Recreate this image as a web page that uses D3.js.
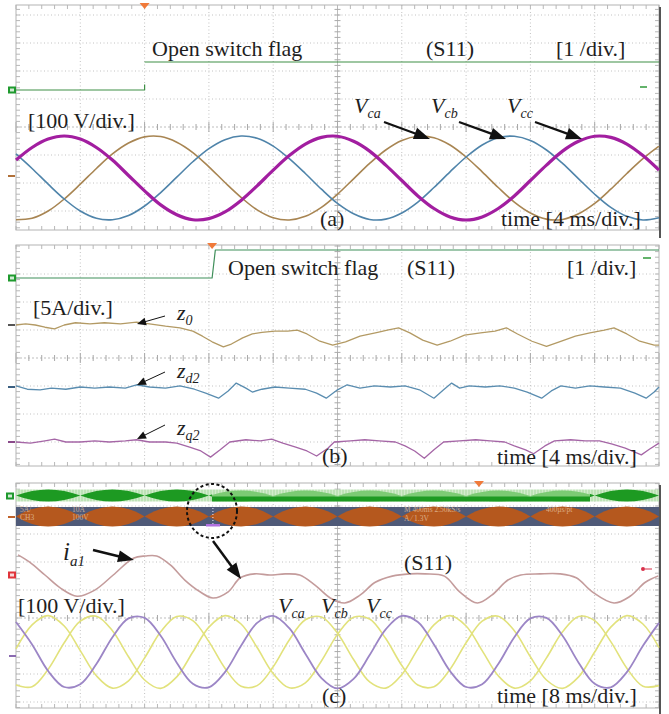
<!DOCTYPE html>
<html><head><meta charset="utf-8">
<script src="https://cdn.jsdelivr.net/npm/d3@7"></script>
<style>
body{margin:0;background:#fff}
svg{display:block}
text{font-family:"Liberation Serif","Times New Roman",serif;fill:#1e1e1e}
</style></head>
<body><svg id="c" width="669" height="714"></svg>
<script>
// ---------------- DATA ----------------
// Panel (a): 4 ms/div, 100 V/div
const tA = d3.range(0, 41);               // sample times, ms
const vcaA = [-149,-144,-118,-75,-22,34,86,125,147,148,128,91,40,-16,-69,-114,-142,-150,-137,-105,-58,-3,52,100,134,149,144,118,75,22,-34,-86,-125,-147,-148,-128,-91,-40,16,69,114];
const vcbA = [86,34,-22,-75,-118,-144,-149,-134,-100,-52,3,58,105,137,150,142,114,69,16,-40,-91,-128,-148,-147,-125,-86,-34,22,75,118,144,149,134,100,52,-3,-58,-105,-137,-150,-142];
const vccA = [64,109,139,150,139,109,64,9,-46,-96,-131,-149,-145,-121,-80,-28,28,80,121,145,149,131,96,46,-9,-64,-109,-139,-150,-139,-109,-64,-9,46,96,131,149,145,121,80,28];
const flagAT = [0, 8.0, 8.0, 8.0, 8.0, 40];
const flagA  = [0, 0, 0.2, null, 1, 1];

// Panel (b): 4 ms/div, 5 A/div
const flagBT = [0, 12.2, 12.4, 40];
const flagB  = [0, 0, 1, 1];
const z0T = [0,0.6,1.2,1.8,2.4,3.0,3.7,4.6,5.5,6.5,7.5,8.3,9.3,10.2,11.0,11.6,12.2,12.9,13.4,14.1,14.7,15.3,16.1,16.9,17.5,18.1,18.9,19.7,20.5,21.4,22.5,23.1,23.8,24.5,25.3,26.2,27.0,27.9,28.9,29.8,30.5,31.2,32.1,33.0,33.8,34.8,35.7,36.6,37.2,38.0,38.8,39.7,40.0];
const z0  = [0,0.2,0,-0.4,-0.7,0,0.4,0.2,0.4,0.2,0.5,0.2,-0.2,-0.5,-1.1,-2.0,-3.0,-3.9,-3.4,-2.3,-1.6,-1.3,-1.1,-1.1,-0.9,-1.6,-2.9,-3.6,-3.0,-2.0,-1.3,-0.9,-0.5,-1.4,-2.7,-3.6,-2.9,-1.8,-1.4,-1.1,-0.5,-1.6,-2.9,-3.8,-3.0,-2.0,-1.4,-0.9,-0.5,-1.6,-2.9,-3.6,-3.6];
const zd2T = [0,0.7,1.5,2.2,3.1,4.0,4.9,5.8,6.8,7.5,8.3,9.3,10.2,11.1,11.8,12.6,13.2,13.7,14.3,14.7,15.3,16.1,17.0,18.0,18.7,19.3,20.0,20.6,21.4,22.3,23.3,24.2,25.1,26.0,26.6,27.1,27.6,28.2,29.2,30.1,31.0,31.8,32.7,33.3,33.9,34.8,35.7,36.6,37.6,38.5,39.2,39.7,40.0];
const zd2  = [0.2,-0.4,-0.5,-0.2,-0.4,0,-0.2,0,-0.2,0.4,0,-0.2,0.2,-0.4,-1.1,-2.0,-0.7,0.7,-0.2,-0.9,-0.4,0,-0.2,-0.4,-1.1,-2.0,-0.5,0.4,-0.2,0.2,0,0.2,-0.5,-2.0,-0.5,0.7,-0.2,0.2,0,0.2,-0.2,-0.9,-2.0,-0.7,0.2,-0.2,0.2,0,-0.2,-1.1,-2.0,-0.9,0];
const zq2T = [0,0.9,1.8,2.4,3.1,4.0,4.9,5.8,6.8,7.5,8.3,9.3,10.0,10.8,11.5,12.1,12.7,13.3,14.3,15.2,15.9,16.6,17.4,18.1,18.7,19.4,19.8,20.8,21.7,22.6,23.6,24.2,24.8,25.4,26.0,26.6,27.6,28.6,29.5,30.4,31.0,31.7,32.2,32.9,33.5,34.5,35.4,36.3,37.1,37.9,38.9,39.4,40.0];
const zq2  = [0,-0.2,0.2,0.5,0,0,0.2,0,0.2,0.4,0,0,-0.2,-0.9,-1.6,-2.7,-1.4,0,0.4,0.2,0.5,-0.2,-0.9,-1.6,-2.5,-1.1,0,0.2,0.4,0.2,0,-0.7,-1.6,-2.9,-1.4,0,0.2,0.4,0.2,0,-0.7,-1.4,-2.1,-0.7,0.2,0.4,0.2,0.2,-0.4,-1.1,-2.3,-1.3,-0.2];

// Panel (c): 8 ms/div, 100 V/div
const tC = d3.range(0, 81, 2);            // sample times, ms
const vcaC = [11,97,130,93,5,-85,-129,-103,-21,72,127,112,37,-58,-122,-120,-53,43,115,125,67,-27,-107,-129,-81,11,97,130,93,5,-85,-129,-103,-21,72,127,112,37,-58,-122,-120];
const vcbC = [-118,-124,-62,33,110,128,76,-17,-100,-130,-89,0,89,130,100,16,-77,-128,-110,-32,63,124,118,48,-48,-118,-124,-62,33,110,128,76,-17,-100,-130,-89,0,89,130,100,16];
const vccC = [107,27,-68,-125,-115,-43,53,120,122,58,-38,-113,-126,-72,22,104,129,85,-6,-93,-130,-96,-11,81,129,107,27,-68,-125,-115,-43,53,120,122,58,-38,-113,-126,-72,22,104];
const ia1T = [0.25,1.7,3.6,5.5,7.6,9.8,12.1,14.6,16.1,17.5,19.2,21.0,22.9,24.5,26.4,27.9,29.7,31.6,33.5,35.3,37.2,39.1,40.9,42.8,44.7,46.8,49.0,50.9,53.3,55.2,57.4,59.2,61.2,62.8,65.2,67.7,69.7,71.7,74.4,76.4,78.3,79.9];
const ia1  = [3.6,2.3,0,-2.3,-3.8,-2.7,0,3.0,3.4,3.4,1.8,-0.9,-3.0,-4.1,-3.0,-0.5,0.2,0,0.2,0,-1.8,-4.1,-5.0,-3.6,-1.3,-0.2,0.2,0.2,-0.2,-3.0,-5.0,-3.6,-0.9,0,0.2,0.2,-0.5,-3.0,-5.0,-3.8,-1.3,-0.2];
const bandNodes = [0,8,16,24,32,40,48,56,64,72,80];   // gate-signal envelope nodes, ms
const greenFault = [24.4, 71.4];                      // ms

// ---------------- LAYOUT ----------------
const svg = d3.select('#c');
const X0 = 16, X1 = 659, PX_DIV = 28;
const xDiv = d3.scaleLinear().domain([0,10]).range([X0,X1]);
const xA = d3.scaleLinear().domain([0,40]).range([X0,X1]);
const xC = d3.scaleLinear().domain([0,80]).range([X0,X1]);
const lin = (base, perDiv) => d3.scaleLinear().domain([0, perDiv]).range([base, base - PX_DIV]);

function frame(top, bottom, cy, darkRight){
  const g = svg.append('g');
  const gc = '#c2c2c2';
  // vertical gridlines
  for (let k=1;k<10;k++){
    if (k===5) continue;
    g.append('line').attr('x1',xDiv(k)).attr('x2',xDiv(k)).attr('y1',top).attr('y2',bottom)
      .attr('stroke',gc).attr('stroke-dasharray','1,2.5');
  }
  // horizontal gridlines
  for (let k=-9;k<=9;k++){
    const y = cy + k*PX_DIV;
    if (k===0 || y < top+4 || y > bottom-4) continue;
    g.append('line').attr('x1',X0).attr('x2',X1).attr('y1',y).attr('y2',y)
      .attr('stroke',gc).attr('stroke-dasharray','1,2.5');
  }
  // center lines
  g.append('line').attr('x1',xDiv(5)).attr('x2',xDiv(5)).attr('y1',top).attr('y2',bottom).attr('stroke','#bdbdbd');
  g.append('line').attr('x1',X0).attr('x2',X1).attr('y1',cy).attr('y2',cy).attr('stroke','#bdbdbd').attr('stroke-dasharray','2,2');
  const step = (X1-X0)/50;
  for (let i=0;i<=50;i++){
    const x = X0 + i*step, L = (i%5===0)?5:3;
    g.append('line').attr('x1',x).attr('x2',x).attr('y1',cy-L).attr('y2',cy+L).attr('stroke','#a8a8a8');
    g.append('line').attr('x1',x).attr('x2',x).attr('y1',top).attr('y2',top+4).attr('stroke','#b8b8b8');
    g.append('line').attr('x1',x).attr('x2',x).attr('y1',bottom-4).attr('y2',bottom).attr('stroke','#b8b8b8');
  }
  const vs = PX_DIV/5;
  for (let y = cy - Math.floor((cy-top)/vs)*vs; y <= bottom; y += vs){
    g.append('line').attr('x1',xDiv(5)-3).attr('x2',xDiv(5)+3).attr('y1',y).attr('y2',y).attr('stroke','#a8a8a8');
    g.append('line').attr('x1',X0).attr('x2',X0+4).attr('y1',y).attr('y2',y).attr('stroke','#b8b8b8');
    g.append('line').attr('x1',X1-4).attr('x2',X1).attr('y1',y).attr('y2',y).attr('stroke','#b8b8b8');
  }
  g.append('rect').attr('x',X0).attr('y',top).attr('width',X1-X0).attr('height',bottom-top)
    .attr('fill','none').attr('stroke','#b4b4b4');
  if (darkRight) g.append('line').attr('x1',X1+1).attr('x2',X1+1).attr('y1',top+2).attr('y2',bottom+8)
    .attr('stroke','#555').attr('stroke-width',2);
  return g;
}

function trace(ts, vs, x, y, color, w, curve){
  const pts = ts.map((t,i)=>[t, vs[i]]);
  const line = d3.line().defined(d=>d[1]!==null).x(d=>x(d[0])).y(d=>y(d[1]))
    .curve(curve || d3.curveCatmullRom.alpha(0.5));
  svg.append('path').datum(pts).attr('d',line).attr('fill','none')
    .attr('stroke',color).attr('stroke-width',w).attr('stroke-linejoin','round');
}

function txt(x,y,s,size){
  return svg.append('text').attr('x',x).attr('y',y).attr('font-size',size||22).text(s);
}
function sublabel(x,y,main,sub,size,subSize){
  const t = svg.append('text').attr('x',x).attr('y',y).attr('font-size',size).attr('font-style','italic');
  t.append('tspan').text(main);
  t.append('tspan').attr('font-size',subSize).attr('dy',size*0.22).text(sub);
}
function arrow(x1,y1,x2,y2,len,wid,lw){
  const dx=x2-x1, dy=y2-y1, d=Math.hypot(dx,dy), ux=dx/d, uy=dy/d;
  const bx=x2-ux*len, by=y2-uy*len;
  svg.append('line').attr('x1',x1).attr('y1',y1).attr('x2',bx+ux*1).attr('y2',by+uy*1)
    .attr('stroke','#111').attr('stroke-width',lw);
  svg.append('polygon').attr('points',[[x2,y2],[bx-uy*wid/2,by+ux*wid/2],[bx+uy*wid/2,by-ux*wid/2]].map(p=>p.join(',')).join(' '))
    .attr('fill','#111');
}
function chMarker(x,y,color,kind){
  if (kind==='box'){
    svg.append('rect').attr('x',x).attr('y',y-3.5).attr('width',8).attr('height',7).attr('fill',color);
    svg.append('rect').attr('x',x+2).attr('y',y-1.5).attr('width',4).attr('height',3).attr('fill','#fff').attr('opacity',0.8);
  } else {
    svg.append('line').attr('x1',x).attr('x2',x+7).attr('y1',y).attr('y2',y).attr('stroke',color).attr('stroke-width',2);
  }
}
function trig(x,y){
  svg.append('polygon').attr('points',`${x-5},${y-2} ${x+5},${y-2} ${x},${y+4}`).attr('fill','#f07a3a');
}

// ---------------- PANEL (a) ----------------
frame(5, 230, 127, true);
const yFlagA = lin(90, 1);
const yVa = lin(178, 100);
trace(flagAT, flagA, xA, yFlagA, '#3f8f46', 1.2, d3.curveLinear);
trace(tA, vcaA, xA, yVa, '#a88552', 1.6);
trace(tA, vcbA, xA, yVa, '#4f84aa', 1.6);
trace(tA, vccA, xA, yVa, '#a21ea0', 3.2);
chMarker(8, 90, '#1f9a2e', 'box');
chMarker(8, 176, '#b07038', 'dash');
svg.append('line').attr('x1',640).attr('x2',647).attr('y1',87).attr('y2',87).attr('stroke','#2f9a3a').attr('stroke-width',1.5);
trig(xA(8), 5);
txt(152, 56, 'Open switch flag');
txt(426, 56, '(S11)');
txt(556, 56, '[1 /div.]');
txt(28, 128, '[100 V/div.]');
txt(320, 226, '(a)');
txt(501, 226, 'time [4 ms/div.]');
sublabel(354, 113, 'V', 'ca', 22, 14);
sublabel(431, 113, 'V', 'cb', 22, 14);
sublabel(507, 113, 'V', 'cc', 22, 14);
arrow(384,122,430,139,16,12,2.2);
arrow(459,122,506,139,16,12,2.2);
arrow(535,122,582,139,16,12,2.2);

// ---------------- PANEL (b) ----------------
frame(245, 466, 358, false);
const yFlagB = lin(278, 1);
trace(flagBT, flagB, xA, yFlagB, '#3f8f5a', 1.2, d3.curveLinear);
trace(z0T, z0, xA, lin(325, 5), '#b39a64', 1.3, d3.curveLinear);
trace(zd2T, zd2, xA, lin(387, 5), '#5a8db0', 1.3, d3.curveLinear);
trace(zq2T, zq2, xA, lin(442, 5), '#a566a6', 1.3, d3.curveLinear);
chMarker(8, 278, '#1f9a2e', 'box');
chMarker(8, 325, '#555', 'dash');
chMarker(8, 387, '#3a5f80', 'dash');
chMarker(8, 442, '#8a4a8a', 'dash');
svg.append('line').attr('x1',643).attr('x2',651).attr('y1',258).attr('y2',258).attr('stroke','#2f9a3a').attr('stroke-width',1.5);
trig(xA(12.2), 245);
txt(228, 275, 'Open switch flag');
txt(407, 275, '(S11)');
txt(567, 275, '[1 /div.]');
txt(33, 315, '[5A/div.]');
sublabel(177, 320, 'z', '0', 22, 14);
sublabel(177, 378, 'z', 'd2', 22, 14);
sublabel(177, 435, 'z', 'q2', 22, 14);
arrow(165,316,137,324,9,8,1);
arrow(165,372,137,385,9,8,1);
arrow(165,425,137,439,9,8,1);
txt(322, 463, '(b)');
txt(497, 464, 'time [4 ms/div.]');

// ---------------- PANEL (c) ----------------
frame(483, 708, 618, true);
// gate signal bands
const defs = svg.append('defs');
const pat = defs.append('pattern').attr('id','hatch').attr('width',3).attr('height',4).attr('patternUnits','userSpaceOnUse');
pat.append('rect').attr('width',3).attr('height',4).attr('fill','#d3eccd');
pat.append('line').attr('x1',1).attr('x2',1).attr('y1',0).attr('y2',4).attr('stroke','#9bd294').attr('stroke-width',0.8);
defs.append('clipPath').attr('id','gOut').selectAll('rect')
  .data([[X0, xC(greenFault[0])],[xC(greenFault[1]), X1]]).join('rect')
  .attr('x',d=>d[0]).attr('y',480).attr('width',d=>d[1]-d[0]).attr('height',30);
defs.append('clipPath').attr('id','gIn').append('rect')
  .attr('x',xC(greenFault[0])).attr('y',480).attr('width',xC(greenFault[1])-xC(greenFault[0])).attr('height',30);
svg.append('rect').attr('x',X0).attr('y',489.5).attr('width',X1-X0).attr('height',12).attr('fill','url(#hatch)');
const lens = (a,b,cy,h)=>{const xa=xC(a), xb=xC(b), xm=(xa+xb)/2;
  return `M${xa},${cy}Q${xm},${cy-2*h} ${xb},${cy}Q${xm},${cy+2*h} ${xa},${cy}Z`;};
const pairs = bandNodes.slice(0,-1).map((n,i)=>[n, bandNodes[i+1]]);
svg.append('g').attr('clip-path','url(#gOut)').selectAll('path').data(pairs).join('path')
  .attr('d',d=>lens(d[0],d[1],495.5,6)).attr('fill','#1d9a22');
const gin = svg.append('g').attr('clip-path','url(#gIn)');
gin.selectAll('path').data(pairs).join('path').attr('d',d=>lens(d[0],d[1],496,5.5)).attr('fill','#7ccb74');
gin.append('rect').attr('x',X0).attr('y',496.5).attr('width',X1-X0).attr('height',5).attr('fill','#1d9a22');
// orange band
svg.append('rect').attr('x',X0).attr('y',507).attr('width',X1-X0).attr('height',19).attr('fill','#4f5a78');
svg.append('g').selectAll('path').data(pairs).join('path')
  .attr('d',d=>lens(d[0],d[1],516.5,10)).attr('fill','#b5581e');
const faint = (x,y,s)=>svg.append('text').attr('x',x).attr('y',y).attr('font-size',7.5)
  .attr('font-family','DejaVu Sans').style('fill','#e8c8a8').attr('opacity',0.75).text(s);
faint(20,512,'5A/'); faint(20,520,'CH3'); faint(72,512,'10A'); faint(72,520,'100V');
faint(404,512,'M 400ms 2.50kS/s'); faint(404,521,'A  ⁄  1.3V'); faint(546,512,'400µs/pt');
svg.append('rect').attr('x',206).attr('y',524).attr('width',14).attr('height',2.5).attr('fill','#b070e0');
svg.append('line').attr('x1',xC(24.5)).attr('x2',xC(24.5)).attr('y1',508).attr('y2',524)
  .attr('stroke','#e8e8ff').attr('stroke-dasharray','1,2');
svg.append('ellipse').attr('cx',212).attr('cy',511).attr('rx',25).attr('ry',27)
  .attr('fill','none').attr('stroke','#111').attr('stroke-width',2).attr('stroke-dasharray','3,2.5');
// traces
trace(ia1T, ia1, xC, lin(575, 5), '#c49c9c', 1.6);
const yVc = lin(652, 100);
trace(tC, vcaC, xC, yVc, '#e2e27c', 1.6);
trace(tC, vcbC, xC, yVc, '#e2e27c', 1.6);
trace(tC, vccC, xC, yVc, '#9c86c6', 1.8);
chMarker(6, 496, '#1f9a2e', 'box');
chMarker(8, 517, '#c0622a', 'dash');
chMarker(8, 575, '#e0343a', 'box');
chMarker(9, 656, '#8a6ab0', 'dash');
svg.append('circle').attr('cx',643).attr('cy',569).attr('r',2).attr('fill','#d8304a');
svg.append('line').attr('x1',645).attr('x2',652).attr('y1',569).attr('y2',569).attr('stroke','#d8304a');
trig(xC(57.6), 483);
sublabel(63, 560, 'i', 'a1', 25, 15);
arrow(93,550,134,560,16,12,2.5);
arrow(213,541,241,579,16,12,2.5);
txt(404, 570, '(S11)');
txt(18, 613, '[100 V/div.]');
sublabel(278, 613, 'V', 'ca', 22, 14);
sublabel(321, 613, 'V', 'cb', 22, 14);
sublabel(366, 613, 'V', 'cc', 22, 14);
txt(322, 703, '(c)');
txt(497, 703, 'time [8 ms/div.]');
</script></body></html>
